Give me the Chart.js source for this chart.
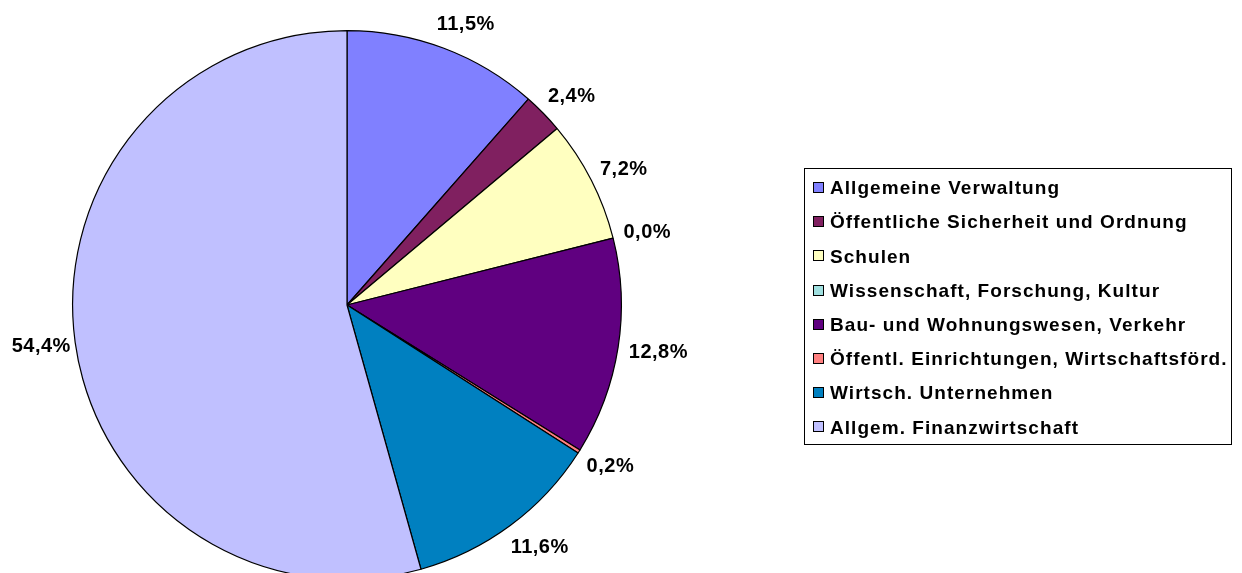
<!DOCTYPE html>
<html>
<head>
<meta charset="utf-8">
<script src="https://cdn.jsdelivr.net/npm/chart.js@4/dist/chart.umd.min.js"></script>
<style>
  html, body { margin: 0; padding: 0; background: #ffffff; overflow: hidden; width: 1242px; height: 573px; }
  canvas { display: block; }
</style>
</head>
<body>
<canvas id="c" width="1242" height="600"></canvas>
<script>
const categories = [
  'Allgemeine Verwaltung',
  'Öffentliche Sicherheit und Ordnung',
  'Schulen',
  'Wissenschaft, Forschung, Kultur',
  'Bau- und Wohnungswesen, Verkehr',
  'Öffentl. Einrichtungen, Wirtschaftsförd.',
  'Wirtsch. Unternehmen',
  'Allgem. Finanzwirtschaft'
];
const shares = [11.5, 2.4, 7.2, 0.0, 12.8, 0.2, 11.6, 54.4];
const sliceColors = ['#8080FF', '#802060', '#FFFFC0', '#A0E0E0', '#600080', '#FF8080', '#0080C0', '#C0C0FF'];

const FONT = '"Liberation Sans", Arial, sans-serif';

const fmt = v => v.toFixed(1).replace('.', ',') + '%';

const labelPlugin = {
  id: 'outsideLabels',
  afterDatasetsDraw(chart) {
    const ctx = chart.ctx;
    const meta = chart.getDatasetMeta(0);
    ctx.save();
    ctx.font = 'bold 20px ' + FONT;
    try { ctx.letterSpacing = '0.5px'; } catch (e) {}
    ctx.fillStyle = '#000';
    ctx.textAlign = 'center';
    ctx.textBaseline = 'middle';
    meta.data.forEach((arc, i) => {
      const p = arc.getProps(['x', 'y', 'startAngle', 'endAngle', 'outerRadius'], true);
      const mid = (p.startAngle + p.endAngle) / 2;
      const txt = fmt(shares[i]);
      const w = ctx.measureText(txt).width + 6;
      const halfH = 18;
      const g = 8;
      const c = Math.cos(mid), s = Math.sin(mid);
      const px = p.x + (p.outerRadius + g) * c;
      const py = p.y + (p.outerRadius + g) * s;
      const cx = px + (w / 2) * Math.sign(c) * Math.sqrt(Math.abs(c)) * (c < 0 ? 0.8 : 1);
      const cy = py + halfH * s;
      ctx.fillText(txt, cx, cy + 1);
    });
    ctx.restore();
  }
};

const legendBoxPlugin = {
  id: 'legendBox',
  afterDraw(chart) {
    const ctx = chart.ctx;
    ctx.save();
    const left = 804, top = 168, right = 1231, bottom = 444;
    ctx.strokeStyle = '#000';
    ctx.lineWidth = 1;
    ctx.strokeRect(left + 0.5, top + 0.5, right - left, bottom - top);
    ctx.font = 'bold 19px ' + FONT;
    try { ctx.letterSpacing = '1.05px'; } catch (e) {}
    ctx.textAlign = 'left';
    ctx.textBaseline = 'middle';
    const rowStart = 187.5, rowStep = 34.2;
    categories.forEach((name, i) => {
      const cy = rowStart + i * rowStep;
      ctx.fillStyle = sliceColors[i];
      ctx.fillRect(813, Math.round(cy - 5.5), 11, 11);
      ctx.strokeStyle = '#000';
      ctx.strokeRect(813.5, Math.round(cy - 5.5) + 0.5, 10, 10);
      ctx.fillStyle = '#000';
      ctx.fillText(name, 830, cy + 1.5);
    });
    ctx.restore();
  }
};

new Chart(document.getElementById('c'), {
  type: 'pie',
  data: {
    labels: categories,
    datasets: [{
      data: shares,
      backgroundColor: sliceColors,
      borderColor: '#000000',
      borderWidth: 1.2,
      hoverOffset: 0
    }]
  },
  options: {
    responsive: false,
    animation: false,
    layout: { padding: { left: 72, top: 30, right: 620, bottom: 20 } },
    plugins: {
      legend: { display: false },
      tooltip: { enabled: false }
    }
  },
  plugins: [labelPlugin, legendBoxPlugin]
});
</script>
</body>
</html>
